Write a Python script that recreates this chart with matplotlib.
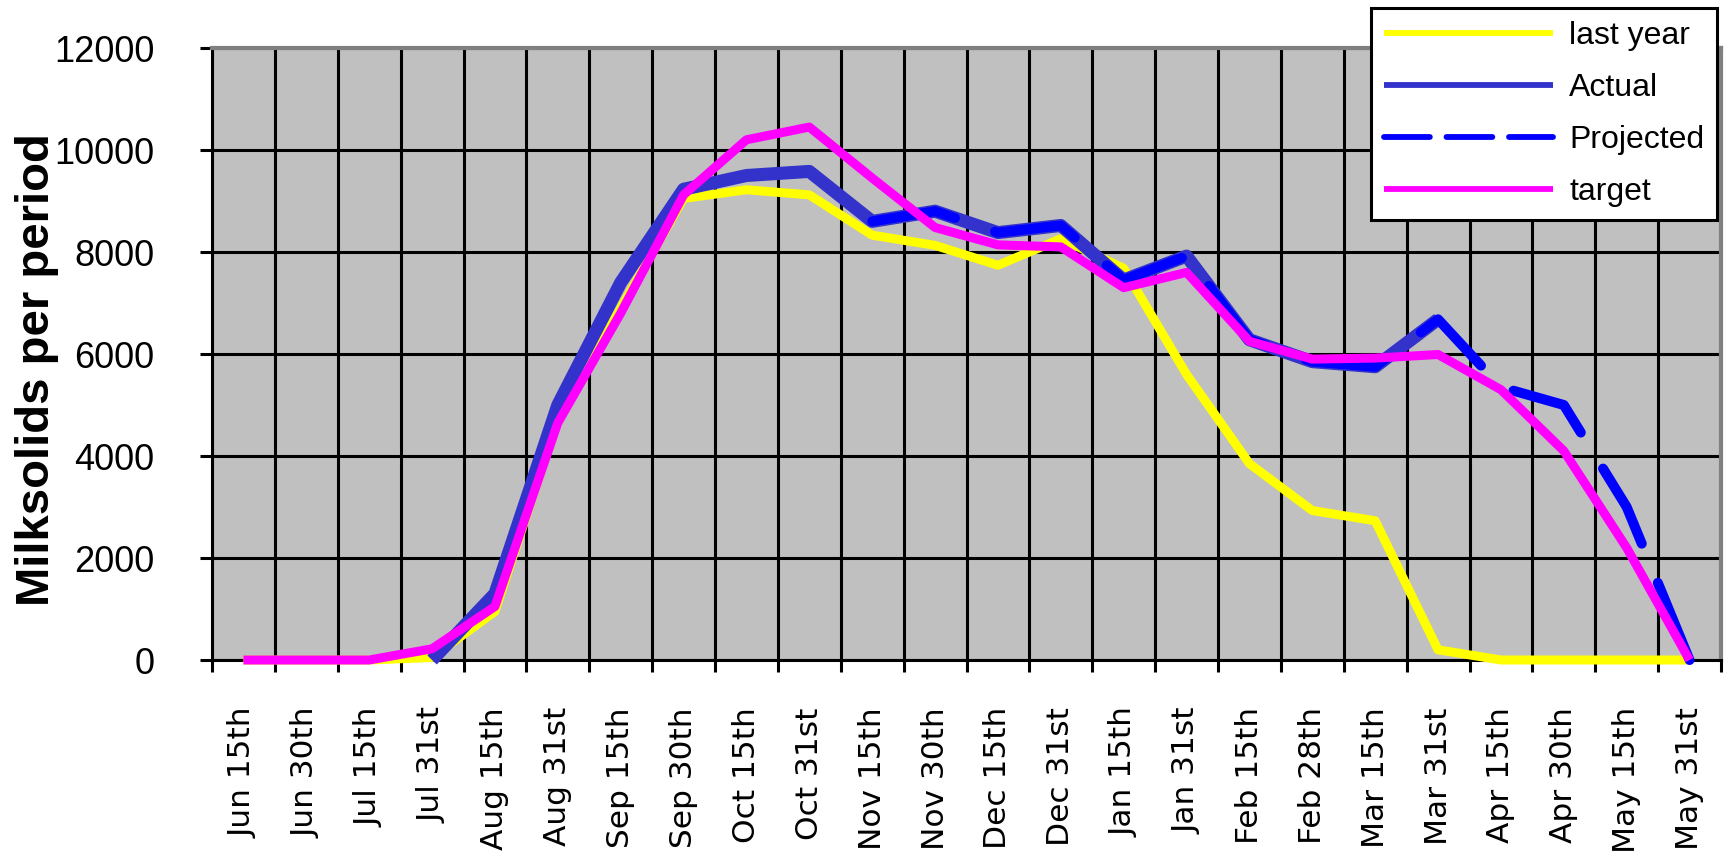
import numpy as np
import matplotlib
matplotlib.use('Agg')
import matplotlib.pyplot as plt

plt.rcParams['font.family'] = ['Liberation Sans', 'DejaVu Sans']
plt.rcParams['lines.scale_dashes'] = False

nan = np.nan

periods = ['Jun 15th', 'Jun 30th', 'Jul 15th', 'Jul 31st', 'Aug 15th', 'Aug 31st',
           'Sep 15th', 'Sep 30th', 'Oct 15th', 'Oct 31st', 'Nov 15th', 'Nov 30th',
           'Dec 15th', 'Dec 31st', 'Jan 15th', 'Jan 31st', 'Feb 15th', 'Feb 28th',
           'Mar 15th', 'Mar 31st', 'Apr 15th', 'Apr 30th', 'May 15th', 'May 31st']

last_year = [0, 0, 0, 50, 950, 4700, 6900, 9050, 9220, 9120, 8330, 8130,
             7740, 8260, 7680, 5600, 3850, 2930, 2730, 200, 0, 0, 0, 0]
actual = [nan, nan, nan, 0, 1300, 5000, 7400, 9230, 9500, 9580, 8600, 8800,
          8380, 8520, 7450, 7920, 6280, 5850, 5750, 6680, nan, nan, nan, nan]
projected = [nan, nan, nan, nan, nan, nan, nan, nan, nan, nan, 8600, 8800,
             8380, 8520, 7450, 7920, 6280, 5850, 5750, 6680, 5350, 5000, 3000, 0]
target = [0, 0, 0, 220, 1050, 4650, 6800, 9120, 10200, 10450, 9450, 8480,
          8140, 8100, 7300, 7600, 6250, 5900, 5920, 5990, 5300, 4100, 2200, 0]

W, H = 1725, 860
fig = plt.figure(figsize=(W / 100, H / 100), dpi=100)
ax = fig.add_axes([212 / W, 1 - 660 / H, (1721 - 212) / W, (660 - 48) / H])
ax.set_facecolor('#C0C0C0')
ax.set_axisbelow(True)

x = np.arange(len(periods))
common = dict(clip_on=False, solid_joinstyle='round', solid_capstyle='butt')
ax.plot(x, last_year, color='#FFFF00', lw=6.5, label='last year', zorder=3, **common)
ax.plot(x, actual, color='#3333CC', lw=9.4, label='Actual', zorder=4, **common)
ax.plot(x, projected, color='#0000FF', lw=7.2, label='Projected', zorder=5,
        dashes=(61, 30.5), dash_capstyle='round', clip_on=False)
ax.plot(x, target, color='#FF00FF', lw=6.5, label='target', zorder=6, **common)

ax.set_xlim(-0.5, len(periods) - 0.5)
ax.set_ylim(0, 12000)
ax.set_yticks(range(0, 12001, 2000))
ax.set_xticks(np.arange(-0.5, len(periods)))
ax.set_xticklabels([])
ax.set_xticks(x, minor=True)
ax.set_xticklabels(periods, minor=True, rotation=90, fontsize=22.5, family='DejaVu Sans')

ax.tick_params(axis='x', which='major', direction='out', length=8.6, width=2.2, color='black')
ax.tick_params(axis='x', which='minor', length=0, pad=34)
ax.tick_params(axis='y', direction='out', length=8.6, width=2.2, color='black',
               labelsize=26, pad=33)
ax.grid(True, which='major', color='black', lw=2.2)

for side in ['left', 'bottom']:
    ax.spines[side].set_color('black')
    ax.spines[side].set_linewidth(2.2)
for side in ['top', 'right']:
    ax.spines[side].set_color('#808080')
    ax.spines[side].set_linewidth(3)

fig.text(37 / W, 1 - 370 / H, 'Milksolids per period', rotation=90, fontsize=34,
         fontweight='bold', ha='center', va='center')

leg = ax.legend(loc='upper left', bbox_to_anchor=(1371 / W, 1 - 8 / H),
                bbox_transform=fig.transFigure, borderaxespad=0, fontsize=23,
                handlelength=5.3, handletextpad=0.5, borderpad=0.4,
                labelspacing=0.69, fancybox=False, framealpha=1, edgecolor='black')
leg.get_frame().set_linewidth(2.2)
leg.set_zorder(10)
for line in leg.get_lines():
    line.set_linewidth(4.2)
leg.get_lines()[2].set_dashes((33, 12))

fig.savefig('out.png', dpi=100)
